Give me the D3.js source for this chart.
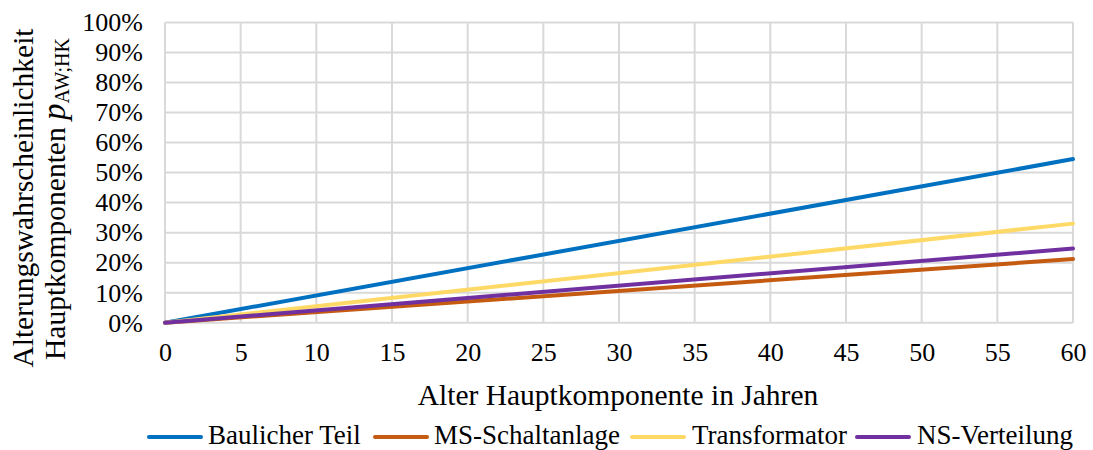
<!DOCTYPE html>
<html>
<head>
<meta charset="utf-8">
<script src="https://cdn.jsdelivr.net/npm/d3@7"></script>
<style>
  html, body { margin: 0; padding: 0; background: #fff; }
  svg { display: block; }
  svg text { font-family: "Liberation Serif", "Times New Roman", serif !important; }
</style>
</head>
<body>
<svg id="chart" width="1093" height="450"></svg>
<script>
// Ageing probability per main component, over component age in years
const ages = [0, 60];
const seriesNames = ["Baulicher Teil", "MS-Schaltanlage", "Transformator", "NS-Verteilung"];
const baulicherTeil = [0, 0.545];
const msSchaltanlage = [0, 0.212];
const transformator = [0, 0.330];
const nsVerteilung = [0, 0.247];
const seriesColors = ["#0070c0", "#c55a11", "#ffd966", "#7030a0"];
const xTicks = [0, 5, 10, 15, 20, 25, 30, 35, 40, 45, 50, 55, 60];
const yTicks = [0, 0.1, 0.2, 0.3, 0.4, 0.5, 0.6, 0.7, 0.8, 0.9, 1.0];

const seriesValues = [baulicherTeil, msSchaltanlage, transformator, nsVerteilung];

const svg = d3.select("#chart");
const plot = { left: 165, right: 1073, top: 22.5, bottom: 322.7 };

const x = d3.scaleLinear().domain([0, 60]).range([plot.left, plot.right]);
const y = d3.scaleLinear().domain([0, 1]).range([plot.bottom, plot.top]);

const tickSize = 26;
const titleSize = 29.5;

// Grid lines
const grid = svg.append("g");
grid.selectAll("line.v").data(xTicks).join("line")
  .attr("x1", d => x(d)).attr("x2", d => x(d))
  .attr("y1", plot.top).attr("y2", plot.bottom)
  .attr("stroke", "#d9d9d9").attr("stroke-width", 2);
grid.selectAll("line.h").data(yTicks).join("line")
  .attr("x1", plot.left).attr("x2", plot.right)
  .attr("y1", d => y(d)).attr("y2", d => y(d))
  .attr("stroke", "#d9d9d9").attr("stroke-width", 2);

// Axes (labels only, no domain or tick marks)
const xAxis = d3.axisBottom(x).tickValues(xTicks).tickSize(0).tickPadding(20).tickFormat(d3.format("d"));
svg.append("g").attr("transform", `translate(0,${plot.bottom})`).call(xAxis)
  .call(g => g.select(".domain").remove())
  .call(g => g.selectAll("text").attr("font-size", tickSize).attr("fill", "#000"));

const yAxis = d3.axisLeft(y).tickValues(yTicks).tickSize(0).tickPadding(22).tickFormat(d3.format(".0%"));
svg.append("g").attr("transform", `translate(${plot.left},0)`).call(yAxis)
  .call(g => g.select(".domain").remove())
  .call(g => g.selectAll("text").attr("font-size", tickSize).attr("fill", "#000"));

// Series lines
const line = d3.line().x(d => x(d[0])).y(d => y(d[1]));
seriesValues.forEach((vals, i) => {
  svg.append("path")
    .datum(ages.map((a, j) => [a, vals[j]]))
    .attr("d", line)
    .attr("fill", "none")
    .attr("stroke", seriesColors[i])
    .attr("stroke-width", 4)
    .attr("stroke-linecap", "round");
});

// X axis title
svg.append("text")
  .attr("x", 618).attr("y", 405)
  .attr("text-anchor", "middle").attr("font-size", titleSize)
  .text("Alter Hauptkomponente in Jahren");

// Y axis title, two lines rotated
const yTitle = svg.append("g").attr("transform", "translate(0,198) rotate(-90)");
yTitle.append("text")
  .attr("x", 0).attr("y", 33)
  .attr("text-anchor", "middle").attr("font-size", titleSize)
  .text("Alterungswahrscheinlichkeit");
const t2 = yTitle.append("text")
  .attr("x", -1).attr("y", 65)
  .attr("text-anchor", "middle").attr("font-size", titleSize);
t2.append("tspan").text("Hauptkomponenten ");
t2.append("tspan").attr("font-style", "italic").attr("font-size", 33).text("p");
t2.append("tspan").attr("font-size", 20).attr("dy", 4).text("AW;HK");

// Legend
const legendItems = [
  { name: seriesNames[0], color: seriesColors[0], x0: 147, tx: 208 },
  { name: seriesNames[1], color: seriesColors[1], x0: 373, tx: 434 },
  { name: seriesNames[2], color: seriesColors[2], x0: 630, tx: 692 },
  { name: seriesNames[3], color: seriesColors[3], x0: 855, tx: 917 }
];
const legend = svg.append("g");
legendItems.forEach(it => {
  legend.append("line")
    .attr("x1", it.x0 + 2).attr("x2", it.x0 + 54)
    .attr("y1", 437).attr("y2", 437)
    .attr("stroke", it.color).attr("stroke-width", 4).attr("stroke-linecap", "round");
  legend.append("text")
    .attr("x", it.tx).attr("y", 444)
    .attr("font-size", 27)
    .text(it.name);
});
</script>
</body>
</html>
